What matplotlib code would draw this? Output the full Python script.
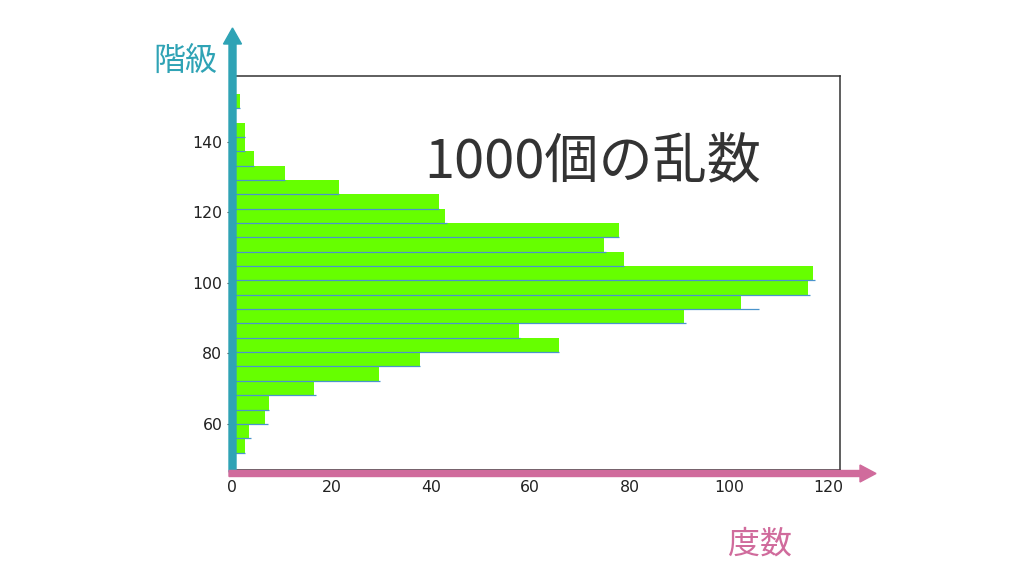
import matplotlib
matplotlib.use("Agg")
import matplotlib.pyplot as plt
import numpy as np
from matplotlib.patches import FancyArrow
from matplotlib.transforms import Affine2D

# histogram of 1000 random numbers
bin_low = 51.9
bin_high = 153.6
counts = [2.6, 3.4, 6.7, 7.4, 16.5, 29.6, 37.8, 65.8, 57.7, 91, 102.4, 115.8, 116.9,
          78.9, 74.9, 77.8, 42.8, 41.6, 21.5, 10.7, 4.5, 2.6, 2.6, 0, 1.6]
# thin blue edge lines under the green bars
blue_counts = [2.6, 3.9, 7.2, 7.4, 16.8, 29.8, 37.8, 65.8, 58.0, 91.3, 106.0, 116.2, 117.2,
               78.9, 75.2, 77.8, 43.2, 41.6, 21.5, 10.7, 4.5, 2.6, 2.6, 0, 1.6]
x_ticks = [0, 20, 40, 60, 80, 100, 120]
y_ticks = [60, 80, 100, 120, 140]

title_text = "1000個の乱数"
y_label = "階級"
x_label = "度数"

teal = "#2fa3b5"
pink = "#d06b9c"
green = "#66ff00"

plt.rcParams['font.family'] = ['Noto Sans CJK JP', 'DejaVu Sans']

fig = plt.figure(figsize=(10.24, 5.70), dpi=100)
ax = fig.add_axes([232 / 1024, 1 - 470 / 570, 608 / 1024, 394 / 570])

edges = np.linspace(bin_low, bin_high, len(counts) + 1)
bin_h = edges[1] - edges[0]
ax.barh(edges[:-1], counts, height=bin_h, align="edge", color=green, zorder=2)
ax.hlines(edges[:-1], 0, blue_counts, color="#4a94cc", lw=0.9, zorder=3)

ax.set_xlim(0, 122.3)
ax.set_ylim(46.95, 158.7)
ax.set_xticks(x_ticks)
ax.set_yticks(y_ticks)
ax.tick_params(labelsize=11.3, labelcolor="#222222", color="#444444", length=3.5)
for lab in ax.get_xticklabels() + ax.get_yticklabels():
    lab.set_family("DejaVu Sans")
for sp in ax.spines.values():
    sp.set_color("#333333")
    sp.set_linewidth(1.1)

# pixel transform (origin bottom-left)
px = Affine2D().scale(1 / 100) + fig.dpi_scale_trans

fig.add_artist(FancyArrow(232.5, 98, 0, 542 - 98, width=7, head_width=18,
                          head_length=16, length_includes_head=True,
                          color=teal, transform=px, zorder=5))
fig.add_artist(FancyArrow(229, 96.5, 876 - 229, 0, width=6, head_width=17,
                          head_length=16, length_includes_head=True,
                          color=pink, transform=px, zorder=6))

fig.text(593 / 1024, 1 - 163 / 570, title_text, fontsize=39, color="#333333",
         ha="center", va="center")
fig.text(185 / 1024, 1 - 61 / 570, y_label, fontsize=23, color=teal,
         ha="center", va="center")
fig.text(760 / 1024, 1 - 545 / 570, x_label, fontsize=23, color=pink,
         ha="center", va="center")

fig.savefig("out.png", dpi=100)
